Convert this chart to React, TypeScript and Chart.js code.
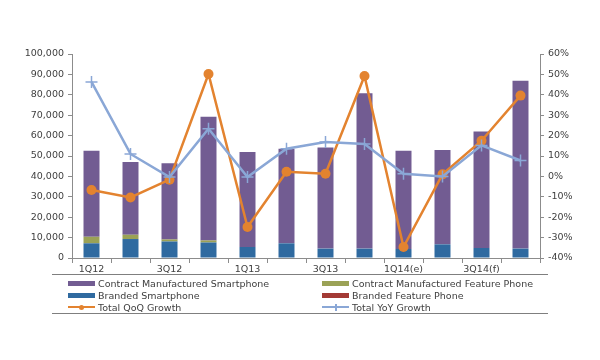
import React, { useEffect, useRef } from "react";
import { Chart, registerables } from "chart.js";

Chart.register(...registerables);

const categories = ["1Q12", "2Q12", "3Q12", "4Q12", "1Q13", "2Q13", "3Q13", "4Q13", "1Q14(e)", "2Q14(e)", "3Q14(f)", "4Q14(f)"];
const brandedSmartphone = [7200, 9300, 8100, 7600, 5400, 7200, 4600, 4600, 4400, 6700, 4900, 4600];
const contractFeaturePhone = [3200, 2100, 1000, 1000, 0, 0, 0, 0, 0, 0, 0, 0];
const contractSmartphone = [42200, 35600, 37300, 60700, 46600, 46400, 49600, 76100, 48200, 46200, 57100, 82300];
const brandedFeaturePhone = [0, 0, 0, 0, 0, 0, 0, 0, 0, 0, 0, 0];
const qoqGrowth = [-6.7, -10.3, -1.6, 50.2, -24.8, 2.3, 1.3, 49.2, -34.6, 1.0, 17.5, 39.6];
const yoyGrowth = [46.3, 11.0, -0.3, 23.4, -0.3, 13.6, 16.9, 15.9, 1.3, 0.0, 15.2, 7.8];
const leftTicks = { min: 0, max: 100000, step: 10000 };
const rightTicks = { min: -40, max: 60, step: 10 };

const FONT = "'DejaVu Sans', Verdana, sans-serif";
const TEXT = "#404040";
const AXIS = "#8c8c8c";
const C_PURPLE = "#725C92";
const C_OLIVE = "#9BA256";
const C_BLUE = "#2F6AA0";
const C_RED = "#A33A35";
const C_ORANGE = "#E3832F";
const C_LBLUE = "#8AA7D6";

function LegendItem({ label, kind, color }: { label: string; kind: string; color: string }) {
  let sample: React.ReactNode;
  if (kind === "bar") {
    sample = <div style={{ width: 27, height: 5, background: color }} />;
  } else {
    sample = (
      <div style={{ position: "relative", width: 27, height: 9 }}>
        <div style={{ position: "absolute", left: 0, top: 3.5, width: 27, height: 2, background: color }} />
        {kind === "circle" ? (
          <div style={{ position: "absolute", left: 11, top: 2, width: 5, height: 5, borderRadius: 3, background: color }} />
        ) : (
          <div style={{ position: "absolute", left: 13, top: 1, width: 1.5, height: 7, background: color }} />
        )}
      </div>
    );
  }
  return (
    <div style={{ display: "flex", alignItems: "center", height: 12 }}>
      {sample}
      <span style={{ marginLeft: 3, font: `9.5px ${FONT}`, color: TEXT, whiteSpace: "nowrap" }}>{label}</span>
    </div>
  );
}

export default function App() {
  const ref = useRef<HTMLCanvasElement>(null);
  useEffect(() => {
    if (!ref.current) return;
    const chart = new Chart(ref.current, {
      type: "bar",
      data: {
        labels: categories,
        datasets: [
          { type: "line", label: "Total YoY Growth", data: yoyGrowth, yAxisID: "y1", borderColor: C_LBLUE, backgroundColor: C_LBLUE, borderWidth: 2.5, pointStyle: "cross", pointRadius: 6, pointBorderWidth: 1.5, order: 0, tension: 0 },
          { type: "line", label: "Total QoQ Growth", data: qoqGrowth, yAxisID: "y1", borderColor: C_ORANGE, backgroundColor: C_ORANGE, borderWidth: 2.5, pointStyle: "circle", pointRadius: 5, pointBorderWidth: 0, order: 1, tension: 0 },
          { label: "Branded Smartphone", data: brandedSmartphone, backgroundColor: C_BLUE, yAxisID: "y", order: 2, barPercentage: 0.82, categoryPercentage: 0.5 },
          { label: "Contract Manufactured Feature Phone", data: contractFeaturePhone, backgroundColor: C_OLIVE, yAxisID: "y", order: 2, barPercentage: 0.82, categoryPercentage: 0.5 },
          { label: "Contract Manufactured Smartphone", data: contractSmartphone, backgroundColor: C_PURPLE, yAxisID: "y", order: 2, barPercentage: 0.82, categoryPercentage: 0.5 },
          { label: "Branded Feature Phone", data: brandedFeaturePhone, backgroundColor: C_RED, yAxisID: "y", order: 2, barPercentage: 0.82, categoryPercentage: 0.5 },
        ] as any,
      },
      options: {
        animation: false,
        responsive: false,
        layout: { padding: { left: 0, right: 0, top: 54, bottom: 82 } },
        plugins: { legend: { display: false }, tooltip: { enabled: false } },
        scales: {
          x: {
            stacked: true,
            offset: true,
            grid: { display: true, drawOnChartArea: false, offset: true, color: AXIS, tickLength: 5 },
            border: { color: AXIS },
            ticks: {
              autoSkip: false, maxRotation: 0, padding: 1, color: TEXT, font: { family: FONT, size: 9.5 },
              callback: (_v: any, i: number) => (i % 2 === 0 ? categories[i] : ""),
            },
            afterFit: (s: any) => { s.height = 20; },
          },
          y: {
            stacked: true,
            position: "left",
            min: leftTicks.min, max: leftTicks.max,
            grid: { drawOnChartArea: false, color: AXIS, tickLength: 4 },
            border: { color: AXIS },
            ticks: {
              stepSize: leftTicks.step, padding: 4, color: TEXT, font: { family: FONT, size: 9.5 },
              callback: (v: any) => Number(v).toLocaleString("en-US"),
            },
            afterFit: (s: any) => { s.width = 72; },
          },
          y1: {
            stacked: false,
            position: "right",
            min: rightTicks.min, max: rightTicks.max,
            grid: { drawOnChartArea: false, color: AXIS, tickLength: 4 },
            border: { color: AXIS },
            ticks: {
              stepSize: rightTicks.step, padding: 4, color: TEXT, font: { family: FONT, size: 9.5 },
              callback: (v: any) => Math.round(Number(v)) + "%",
            },
            afterFit: (s: any) => { s.width = 60; },
          },
        },
      } as any,
    });
    return () => chart.destroy();
  }, []);

  return (
    <div style={{ position: "absolute", left: 0, top: 0, width: 600, height: 360, background: "#fff" }}>
      <canvas ref={ref} width={600} height={360} style={{ position: "absolute", left: 0, top: 0 }} />
      <div style={{ position: "absolute", left: 52, top: 274, width: 496, height: 38, borderTop: "1px solid #7f7f7f", borderBottom: "1px solid #7f7f7f" }} />
      <div style={{ position: "absolute", left: 68, top: 277 }}>
        <LegendItem label="Contract Manufactured Smartphone" kind="bar" color={C_PURPLE} />
        <LegendItem label="Branded Smartphone" kind="bar" color={C_BLUE} />
        <LegendItem label="Total QoQ Growth" kind="circle" color={C_ORANGE} />
      </div>
      <div style={{ position: "absolute", left: 322, top: 277 }}>
        <LegendItem label="Contract Manufactured Feature Phone" kind="bar" color={C_OLIVE} />
        <LegendItem label="Branded Feature Phone" kind="bar" color={C_RED} />
        <LegendItem label="Total YoY Growth" kind="cross" color={C_LBLUE} />
      </div>
    </div>
  );
}
